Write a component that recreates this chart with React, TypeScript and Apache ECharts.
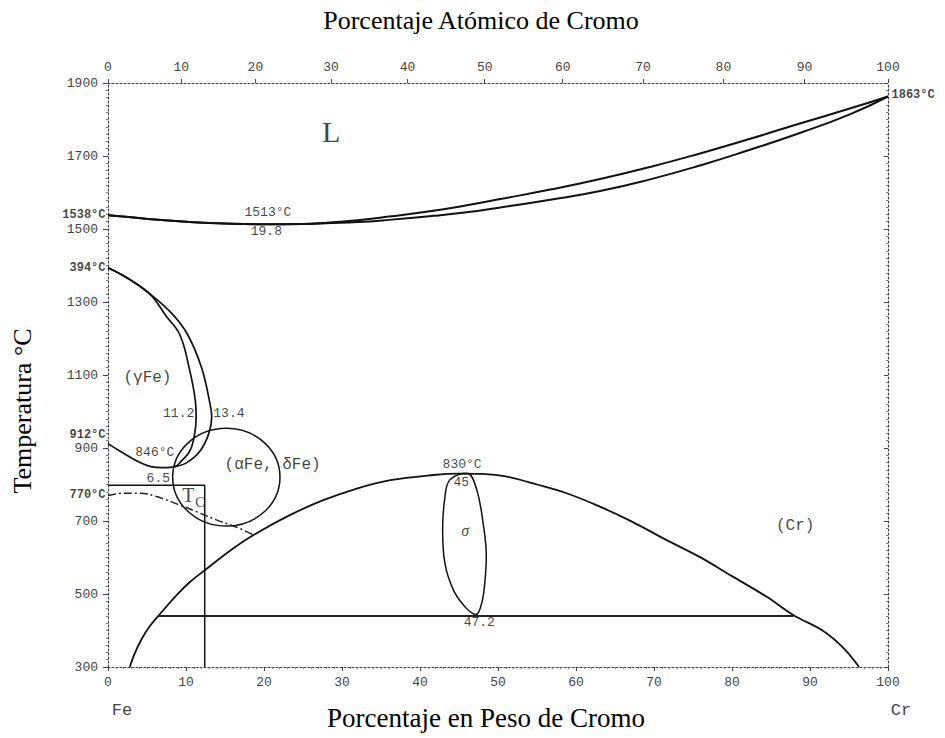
import { useEffect, useRef } from "react";
import * as echarts from "echarts";

// ---- axis ticks ----
const atomicLabels = ["0", "10", "20", "30", "40", "50", "60", "70", "80", "90", "100"];
const atomicPosWt = [0, 9.4, 18.9, 28.6, 38.4, 48.3, 58.3, 68.6, 78.9, 89.3, 100];

// ---- curves (wt% Cr, °C) ----
const liquidusX = [0, 3, 6, 10, 14, 20, 25, 28, 32, 36, 41.7, 46, 50.3, 56.7, 63.1, 69.5, 75.9, 82, 88.7, 95.1, 100];
const liquidusT = [1538, 1532, 1526, 1520, 1516, 1513, 1514, 1517, 1524, 1534, 1550, 1565, 1582, 1608, 1637, 1670, 1707, 1745, 1789, 1830, 1863];
const solidusX = [0, 3, 6, 10, 14, 20, 25, 28, 32, 36, 41.7, 46, 50.3, 56.7, 63.1, 69.5, 75.9, 82, 88.7, 95.1, 100];
const solidusT = [1538, 1532, 1526, 1520, 1516, 1513, 1513.5, 1516, 1519, 1525, 1536, 1546, 1559, 1580, 1604, 1636, 1674, 1715, 1763, 1814, 1863];

const gammaInnerX = [0, 2.5, 5.4, 7.5, 9.2, 10.4, 11.2, 11.3, 11.1, 10.5, 9.4, 8.6, 7.0, 5.5, 4.1, 1.5, 0];
const gammaInnerT = [1394, 1365, 1321, 1260, 1211, 1120, 1029, 983, 938, 892, 864, 849, 846, 849, 860, 892, 912];
const gammaOuterX = [0, 2.5, 5.4, 8.2, 10.2, 12.0, 13.0, 13.3, 12.9, 11.8, 10.1, 8.6];
const gammaOuterT = [1394, 1366, 1322, 1268, 1211, 1120, 1029, 985, 938, 892, 860, 849];

const sigmaDomeX = [2.8, 3.4, 4.3, 5.3, 6.45, 8.8, 10.5, 12.4, 15.6, 18.6, 23.3, 27.6, 31.9, 36.2, 41.7, 45, 48, 51, 55, 58.8, 63, 67.3, 71.5, 75.9, 80, 84.4, 87.9, 91.6, 94.3, 96.3];
const sigmaDomeT = [300, 336, 376, 410, 440, 497, 533, 565, 618, 661, 716, 757, 789, 812, 826, 830, 829, 822, 800, 776, 740, 697, 649, 601, 549, 493, 442, 400, 352, 300];

const eutectoidX = [6.45, 87.9];
const eutectoidT = [440, 440];

const tcBoxX = [0, 12.4, 12.4];
const tcBoxT = [798, 798, 300];

const curieX = [0, 2.0, 4.1, 6.2, 8.8, 11.4, 13.9, 16.5, 18.8];
const curieT = [770, 776, 776, 767, 747, 725, 703, 683, 660];

const sigmaLoopX = [45.6, 46.2, 47.3, 48.1, 48.5, 48.3, 47.9, 47.2, 46.8, 45.8, 44.3, 43.2, 42.9, 43.2, 43.8, 45.6];
const sigmaLoopT = [831, 830, 784, 693, 602, 529, 474, 444, 446, 464, 510, 583, 675, 766, 812, 831];

// ellipse around (αFe, δFe): center wt, center T, radius wt, radius T
const alphaEllipse = [15.17, 820, 6.88, 134];

// ---- annotations: text, wt, T ----
const leftLabels = [
  { text: "1538°C", x: 0, t: 1538 },
  { text: "394°C", x: 0, t: 1392 },
  { text: "912°C", x: 0, t: 935 },
  { text: "770°C", x: 0, t: 772 },
];
const innerLabels = [
  { text: "1513°C", x: 20.5, t: 1544 },
  { text: "19.8", x: 20.3, t: 1494 },
  { text: "11.2", x: 9.06, t: 995 },
  { text: "13.4", x: 15.5, t: 995 },
  { text: "846°C", x: 6.0, t: 887 },
  { text: "6.5", x: 6.45, t: 817 },
  { text: "830°C", x: 45.4, t: 855 },
  { text: "45", x: 45.3, t: 806 },
  { text: "47.2", x: 47.6, t: 421 },
];
const phaseLabels = [
  { text: "(γFe)", x: 5.06, t: 1092 },
  { text: "(αFe, δFe)", x: 21.1, t: 853 },
  { text: "(Cr)", x: 88.1, t: 686 },
];

const zip = (xs: number[], ts: number[]) => xs.map((x, i) => [x, ts[i]]);

const mono = "'Liberation Mono', 'DejaVu Sans Mono', monospace";
const serif = "'Liberation Serif', 'DejaVu Serif', serif";

export default function App() {
  const ref = useRef<HTMLDivElement>(null);

  useEffect(() => {
    if (!ref.current) return;
    const chart = echarts.init(ref.current, undefined, { renderer: "svg" });

    const axisLineStyle = { color: "#444", width: 1.2, type: [2, 2] as any };
    const curve = (name: string, xs: number[], ts: number[], extra: any = {}) => ({
      name,
      type: "line",
      data: zip(xs, ts),
      symbol: "none",
      smooth: 0.4,
      silent: true,
      lineStyle: { color: "#111", width: 1.7 },
      ...extra,
    });

    const labelItem = (l: any, label: any) => ({ value: [l.x, l.t], label: { ...label, formatter: l.text } });
    const leftStyle = { show: true, position: "left", distance: 2, fontFamily: mono, fontSize: 12, lineHeight: 11, fontWeight: "bold", color: "#111" };

    const option: any = {
      animation: false,
      backgroundColor: "#fff",
      grid: { left: 108, right: 57, top: 83, bottom: 71, containLabel: false },
      xAxis: [
        {
          type: "value",
          min: 0,
          max: 100,
          interval: 10,
          position: "bottom",
          axisLine: { show: true, onZero: false, lineStyle: axisLineStyle },
          axisTick: { show: true, length: 4, lineStyle: { color: "#444" } },
          minorTick: { show: true, splitNumber: 10, length: 2, lineStyle: { color: "#777" } },
          axisLabel: { color: "#444", fontFamily: mono, fontSize: 13, margin: 9 },
          splitLine: { show: false },
        },
        {
          type: "value",
          min: 0,
          max: 100,
          position: "top",
          axisLine: { show: true, onZero: false, lineStyle: axisLineStyle },
          axisTick: { show: true, length: 4, customValues: atomicPosWt, lineStyle: { color: "#444" } },
          axisLabel: {
            color: "#444",
            fontFamily: mono,
            fontSize: 13,
            margin: 9,
            customValues: atomicPosWt,
            formatter: (v: number) => {
              const i = atomicPosWt.indexOf(v);
              return i >= 0 ? atomicLabels[i] : "";
            },
          },
          splitLine: { show: false },
        },
      ],
      yAxis: [
        {
          type: "value",
          min: 300,
          max: 1900,
          interval: 200,
          position: "left",
          axisLine: { show: true, onZero: false, lineStyle: axisLineStyle },
          axisTick: { show: true, length: 5, lineStyle: { color: "#444" } },
          minorTick: { show: true, splitNumber: 10, length: 2, lineStyle: { color: "#777" } },
          axisLabel: { color: "#444", fontFamily: mono, fontSize: 13, lineHeight: 11, margin: 10, formatter: (v: number) => String(v) },
          splitLine: { show: false },
        },
        {
          type: "value",
          min: 300,
          max: 1900,
          interval: 200,
          position: "right",
          axisLine: { show: true, onZero: false, lineStyle: axisLineStyle },
          axisTick: { show: true, inside: true, length: 4, lineStyle: { color: "#444" } },
          minorTick: { show: true, splitNumber: 10, length: 2, lineStyle: { color: "#777" } },
          axisLabel: { show: false },
          splitLine: { show: false },
        },
      ],
      series: [
        curve("liquidus", liquidusX, liquidusT, { smooth: 0.5, lineStyle: { color: "#111", width: 2 } }),
        curve("solidus", solidusX, solidusT, { smooth: 0.5, lineStyle: { color: "#111", width: 2 } }),
        curve("gammaInner", gammaInnerX, gammaInnerT),
        curve("gammaOuter", gammaOuterX, gammaOuterT),
        curve("sigmaDome", sigmaDomeX, sigmaDomeT, { smooth: 0.35, lineStyle: { color: "#111", width: 1.8 } }),
        curve("eutectoid", eutectoidX, eutectoidT, { smooth: false, lineStyle: { color: "#222", width: 2 } }),
        curve("tcBox", tcBoxX, tcBoxT, { smooth: false, lineStyle: { color: "#111", width: 1.5 } }),
        curve("curie", curieX, curieT, { lineStyle: { color: "#222", width: 1.5, type: [8, 3, 2, 3] } }),
        curve("sigmaLoop", sigmaLoopX, sigmaLoopT, { smooth: 0.4, lineStyle: { color: "#111", width: 1.5 } }),
        {
          name: "alphaEllipse",
          type: "custom",
          silent: true,
          clip: false,
          data: [alphaEllipse],
          renderItem: (_p: any, api: any) => {
            const c = api.coord([api.value(0), api.value(1)]);
            const s = api.size([api.value(2), api.value(3)]);
            return {
              type: "ellipse",
              shape: { cx: c[0], cy: c[1], rx: s[0], ry: s[1] },
              style: { fill: "none", stroke: "#111", lineWidth: 1.5 },
            };
          },
        },
        {
          name: "annotations",
          type: "scatter",
          silent: true,
          symbolSize: 1,
          itemStyle: { color: "rgba(0,0,0,0)" },
          clip: false,
          data: [
            ...leftLabels.map((l) => labelItem(l, leftStyle)),
            labelItem({ text: "1863°C", x: 100, t: 1868 }, { ...leftStyle, position: "right", distance: 3 }),
            ...innerLabels.map((l) =>
              labelItem(l, { show: true, position: "inside", fontFamily: mono, fontSize: 13, color: "#111" })
            ),
            ...phaseLabels.map((l) =>
              labelItem(l, { show: true, position: "inside", fontFamily: mono, fontSize: 16, color: "#111" })
            ),
            labelItem({ text: "L", x: 28.6, t: 1768 }, { show: true, position: "inside", fontFamily: serif, fontSize: 30, color: "#111" }),
            labelItem({ text: "σ", x: 45.8, t: 674 }, { show: true, position: "inside", fontFamily: serif, fontStyle: "italic", fontSize: 16, color: "#111" }),
            labelItem({ text: "T", x: 10.3, t: 770 }, { show: true, position: "inside", fontFamily: serif, fontSize: 20, color: "#111" }),
            labelItem({ text: "C", x: 11.8, t: 752 }, { show: true, position: "inside", fontFamily: serif, fontSize: 14, color: "#111" }),
          ],
        },
      ],
      graphic: [
        { type: "text", x: 481, y: 20, style: { text: "Porcentaje Atómico de Cromo", font: `26px ${serif}`, fill: "#000", textAlign: "center", textVerticalAlign: "middle" } },
        { type: "text", x: 486, y: 718, style: { text: "Porcentaje en Peso de Cromo", font: `27px ${serif}`, fill: "#000", textAlign: "center", textVerticalAlign: "middle" } },
        { type: "text", x: 22, y: 411, rotation: Math.PI / 2, style: { text: "Temperatura °C", font: `26px ${serif}`, fill: "#000", textAlign: "center", textVerticalAlign: "middle" } },
        { type: "text", x: 122, y: 710, style: { text: "Fe", font: `17px ${mono}`, fill: "#444", textAlign: "center", textVerticalAlign: "middle" } },
        { type: "text", x: 901, y: 710, style: { text: "Cr", font: `17px ${mono}`, fill: "#444", textAlign: "center", textVerticalAlign: "middle" } },
      ],
    };

    chart.setOption(option);
    return () => chart.dispose();
  }, []);

  return <div ref={ref} style={{ width: 945, height: 738, position: "absolute", left: 0, top: 0 }} />;
}
